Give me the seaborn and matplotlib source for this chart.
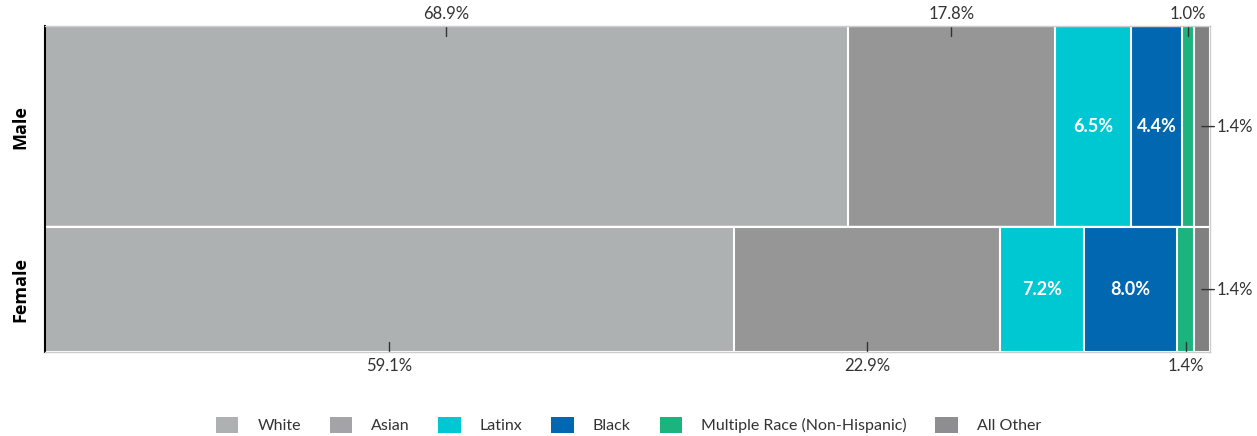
import numpy as np
import pandas as pd
import matplotlib
matplotlib.use("Agg")
import matplotlib.pyplot as plt
from matplotlib.patches import Patch
import seaborn as sns

# ---- data ----
genders = ["Male", "Female"]
gender_share = [0.617, 0.383]          # relative row heights
races = ["White", "Asian", "Latinx", "Black", "Multiple Race (Non-Hispanic)", "All Other"]
male_pct = [68.9, 17.8, 6.5, 4.4, 1.0, 1.4]
female_pct = [59.1, 22.9, 7.2, 8.0, 1.4, 1.4]
colors = ["#AEB1B2", "#969696", "#00C8D2", "#0067B0", "#1BB47E", "#808080"]
legend_colors = ["#AEB1B2", "#A4A4A8", "#00C8D2", "#0067B0", "#1BB47E", "#8E8E92"]

# label style per race: 'out' = outside with tick, 'in' = inside white bold, 'right' = right side
label_style = ["out", "out", "in", "in", "out", "right"]

sns.set_theme(style="white")
plt.rcParams["font.family"] = ["Lato", "DejaVu Sans"]

fig = plt.figure(figsize=(12.57, 4.36), dpi=100)
ax = fig.add_axes([45 / 1257, 84 / 436, 1165 / 1257, 326 / 436])

rows = {"Male": male_pct, "Female": female_pct}
for gi, g in enumerate(genders):
    vals = np.array(rows[g])
    cum = np.cumsum(vals)
    for k in reversed(range(len(vals))):
        df = pd.DataFrame({"gender": [g], "value": [cum[k]]})
        sns.barplot(data=df, x="value", y="gender", order=genders, orient="h",
                    width=2 * gender_share[gi], color=colors[k], saturation=1,
                    edgecolor="white", linewidth=1.5, errorbar=None, ax=ax)

# row extents in data coordinates
top_edge = -gender_share[0]
bot_edge = 1 + gender_share[1]
ax.set_ylim(bot_edge, top_edge)
ax.set_xlim(0, 100)

tick_len = 10 / 326 * (bot_edge - top_edge)
txt_col = "#333333"
for gi, g in enumerate(genders):
    vals = np.array(rows[g])
    cum = np.cumsum(vals)
    starts = cum - vals
    yc = gi
    for k, v in enumerate(vals):
        cx = starts[k] + v / 2
        lab = f"{v:.1f}%"
        st = label_style[k]
        if st == "in":
            ax.text(cx, yc, lab, ha="center", va="center", color="white",
                    fontsize=13, fontweight="bold")
        elif st == "out":
            if gi == 0:
                ax.plot([cx, cx], [top_edge, top_edge + tick_len], color=txt_col, lw=1)
                ax.annotate(lab, (cx, top_edge), xytext=(0, 3), textcoords="offset points",
                            ha="center", va="bottom", fontsize=12, color=txt_col,
                            annotation_clip=False)
            else:
                ax.plot([cx, cx], [bot_edge, bot_edge - tick_len], color=txt_col, lw=1)
                ax.annotate(lab, (cx, bot_edge), xytext=(0, -4), textcoords="offset points",
                            ha="center", va="top", fontsize=12, color=txt_col,
                            annotation_clip=False)
        else:
            ax.annotate("", xy=(cx, yc), xytext=(9, 0), textcoords="offset points",
                        arrowprops=dict(arrowstyle="-", color=txt_col, lw=1,
                                        shrinkA=0, shrinkB=0),
                        annotation_clip=False)
            ax.annotate(lab, (cx, yc), xytext=(10.5, 0), textcoords="offset points",
                        ha="left", va="center", fontsize=12, color=txt_col,
                        annotation_clip=False)

ax.set_xlabel("")
ax.set_ylabel("")
ax.set_xticks([])
ax.set_yticks([0, 1])
ax.set_yticklabels(genders, rotation=90, va="center", fontweight="bold",
                   fontsize=13, color="black", family=["Open Sans", "DejaVu Sans"])
ax.tick_params(axis="y", length=0, pad=11)

for s in ["top", "right", "bottom"]:
    ax.spines[s].set_color("#CCCCCC")
    ax.spines[s].set_linewidth(1)
ax.spines["left"].set_color("black")
ax.spines["left"].set_linewidth(1.5)

handles = [Patch(facecolor=c, edgecolor="none") for c in legend_colors]
fig.legend(handles, races, loc="lower center", bbox_to_anchor=(0.5, -0.027), ncol=6,
           frameon=False, fontsize=11.5, handlelength=1.4, handleheight=1.1,
           handletextpad=1.2, columnspacing=1.8, labelcolor="#333333")

fig.savefig("out.png", dpi=100)
